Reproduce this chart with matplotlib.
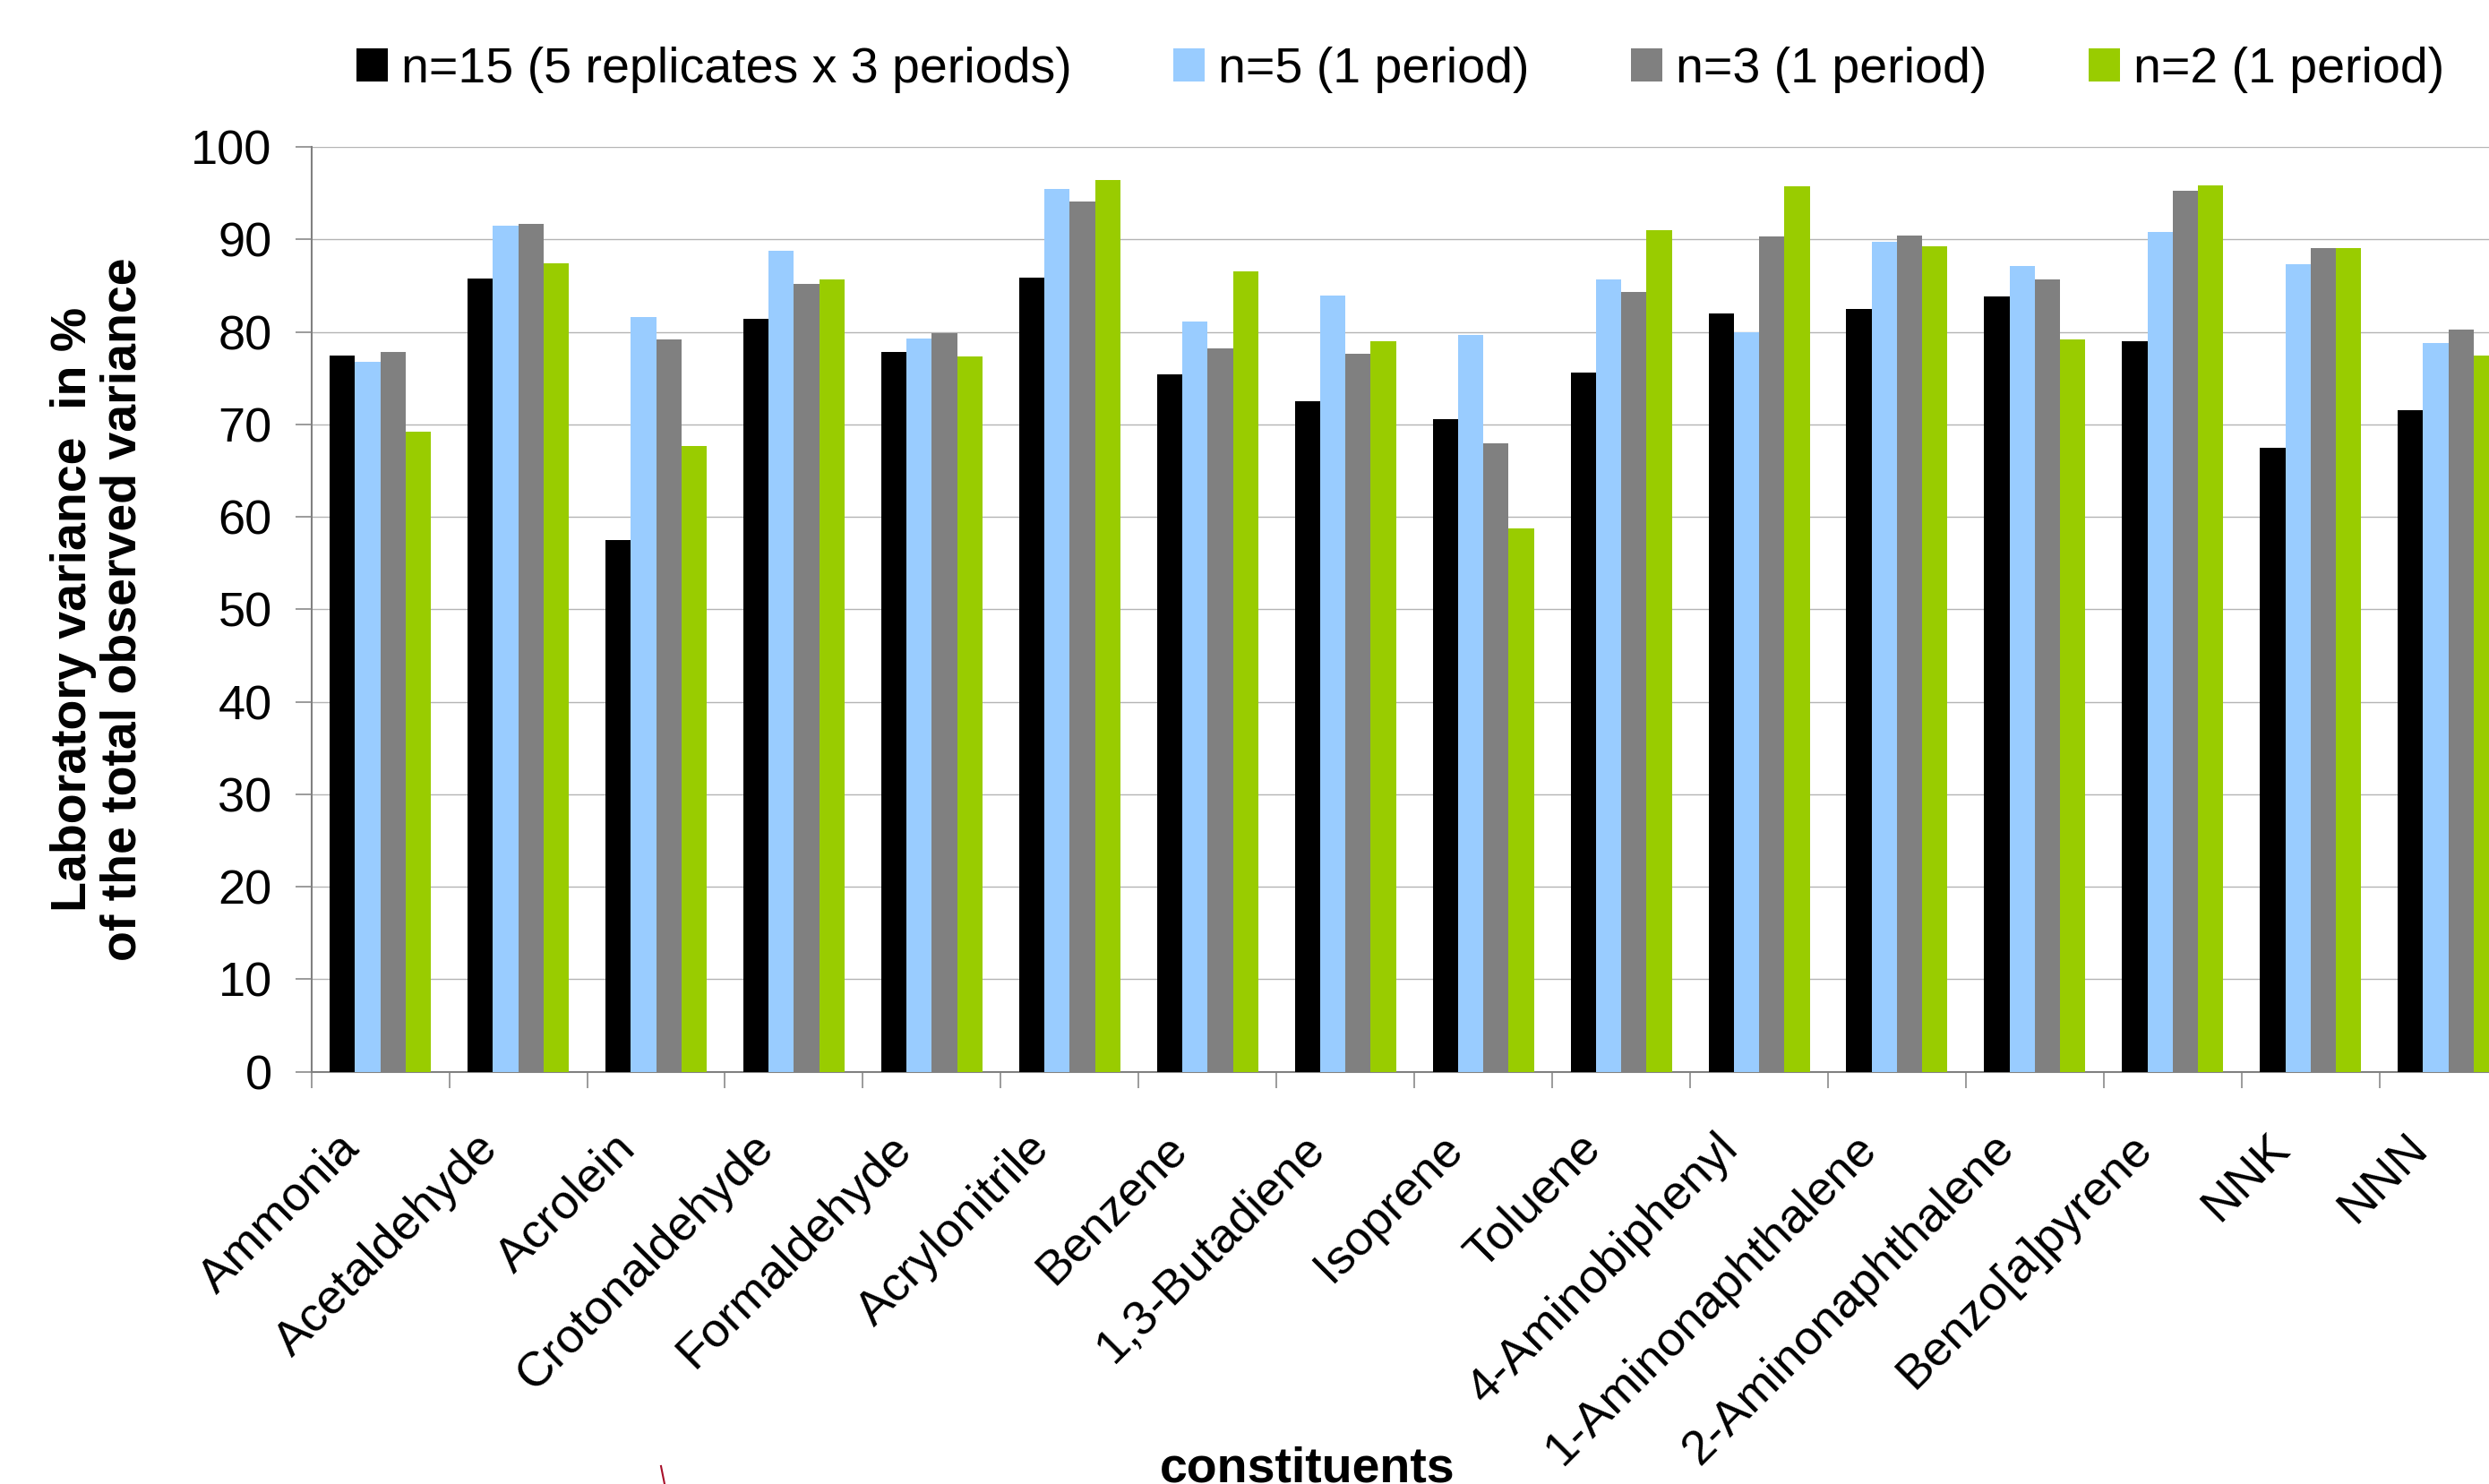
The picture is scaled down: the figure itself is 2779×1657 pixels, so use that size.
import numpy as np
import matplotlib
matplotlib.use("Agg")
import matplotlib.pyplot as plt
import matplotlib.transforms as mtransforms
from matplotlib.lines import Line2D

plt.rcParams['font.family'] = ['Liberation Sans', 'DejaVu Sans']

constituents = ['Ammonia', 'Acetaldehyde', 'Acrolein', 'Crotonaldehyde', 'Formaldehyde',
                'Acrylonitrile', 'Benzene', '1,3-Butadiene', 'Isoprene', 'Toluene',
                '4-Aminobiphenyl', '1-Aminonaphthalene', '2-Aminonaphthalene',
                'Benzo[a]pyrene', 'NNK', 'NNN']

# laboratory variance in % of total observed variance
n15 = [77.5, 85.8, 57.5, 81.4, 77.8, 85.9, 75.4, 72.5, 70.6, 75.6, 82.0, 82.5, 83.8, 79.0, 67.5, 71.5]
n5 = [76.8, 91.5, 81.6, 88.8, 79.3, 95.5, 81.1, 83.9, 79.7, 85.7, 80.0, 89.8, 87.1, 90.8, 87.3, 78.8]
n3 = [77.8, 91.7, 79.2, 85.2, 79.9, 94.1, 78.2, 77.6, 68.0, 84.3, 90.3, 90.4, 85.7, 95.3, 89.1, 80.3]
n2 = [69.2, 87.4, 67.7, 85.7, 77.4, 96.4, 86.6, 79.0, 58.8, 91.0, 95.8, 89.3, 79.2, 95.9, 89.1, 77.5]

series = [n15, n5, n3, n2]
labels = ['n=15 (5 replicates x 3 periods)', 'n=5 (1 period)', 'n=3 (1 period)', 'n=2 (1 period)']
colors = ['#000000', '#99CCFF', '#808080', '#99CC00']

AXIS_GRAY = '#808080'
GRID_GRAY = '#b4b4b4'

fig = plt.figure(figsize=(27.79, 16.57), dpi=100)
fig.patch.set_facecolor('white')

# plot area runs past the right edge of the picture, as in the original
ax = fig.add_axes([0.1251, 0.2778, 0.8863, 0.6231])

x = np.arange(len(constituents))
w = 0.1835
handles = []
for k, (vals, lab, col) in enumerate(zip(series, labels, colors)):
    b = ax.bar(x + (k - 1.5) * w, vals, width=w, color=col, label=lab, zorder=3, linewidth=0)
    handles.append(b)

ax.set_xlim(-0.5, len(constituents) - 0.5)
ax.set_ylim(0, 100)
ax.set_yticks(np.arange(0, 101, 10))
ax.yaxis.grid(True, color=GRID_GRAY, linewidth=1.0, zorder=0)
ax.set_axisbelow(True)

for s in ['top', 'right']:
    ax.spines[s].set_visible(False)
for s in ['left', 'bottom']:
    ax.spines[s].set_color(AXIS_GRAY)
    ax.spines[s].set_linewidth(1.5)

ax.set_xticks(x)
ax.set_xticks(np.arange(-0.5, len(constituents), 1.0), minor=True)
ax.set_xticklabels(constituents, rotation=45, ha='right', va='baseline',
                   rotation_mode='anchor', fontsize=39)
ax.tick_params(axis='x', which='major', length=0, pad=63)
ax.tick_params(axis='x', which='minor', length=12.7, width=1.1, color=AXIS_GRAY)
ax.tick_params(axis='y', which='major', length=12.7, width=1.1, color=AXIS_GRAY,
               labelsize=39, pad=19)

# nudge the rotated labels a little to the left
shift = mtransforms.ScaledTranslation(-0.21, 0, fig.dpi_scale_trans)
for lbl in ax.get_xticklabels():
    lbl.set_transform(lbl.get_transform() + shift)

fig.text(110 / 2779, 0.5896, 'Laboratory variance  in %\nof the total observed variance',
         rotation=90, ha='center', va='center', fontsize=40, fontweight='bold',
         multialignment='center', linespacing=1.1)
fig.text(0.5254, 0.0015, 'constituents', ha='center', va='baseline',
         fontsize=40, fontweight='bold')

fig.legend(handles=handles, labels=labels, loc='center left',
           bbox_to_anchor=(398 / 2779, 0.953), ncol=4, frameon=False, fontsize=40,
           handlelength=0.63, handleheight=0.63, handletextpad=0.27,
           columnspacing=2.04, borderpad=0, borderaxespad=0)

# small red sliver near the bottom edge of the original
fig.add_artist(Line2D([738 / 2779, 742 / 2779], [1 - 1637 / 1657, 0.0],
                      color='#a8102a', linewidth=1.5))

fig.savefig('out.png', dpi=100, facecolor='white')
